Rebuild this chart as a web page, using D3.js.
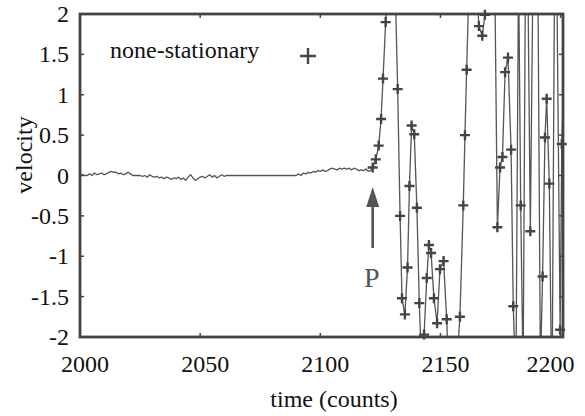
<!DOCTYPE html>
<html>
<head>
<meta charset="utf-8">
<script src="https://cdn.jsdelivr.net/npm/d3@7"></script>
<style>
  html, body { margin: 0; padding: 0; background: #fff; }
  svg { display: block; }
  svg text { font-family: "Liberation Serif", "DejaVu Serif", serif; }
</style>
</head>
<body>
<svg id="chart" width="585" height="416"></svg>
<script>
// Quiet (stationary) stretch of the record, one sample per count
const stationaryTime = [
  2000, 2001, 2002, 2003, 2004, 2005, 2006, 2007, 2008, 2009,
  2010, 2011, 2012, 2013, 2014, 2015, 2016, 2017, 2018, 2019,
  2020, 2021, 2022, 2023, 2024, 2025, 2026, 2027, 2028, 2029,
  2030, 2031, 2032, 2033, 2034, 2035, 2036, 2037, 2038, 2039,
  2040, 2041, 2042, 2043, 2044, 2045, 2046, 2047, 2048, 2049,
  2050, 2051, 2052, 2053, 2054, 2055, 2056, 2057, 2058, 2059,
  2060, 2061, 2090, 2091, 2092, 2093, 2094, 2095, 2096, 2097,
  2098, 2099, 2100, 2101, 2102, 2103, 2104, 2105, 2106, 2107,
  2108, 2109, 2110, 2111, 2112, 2113, 2114, 2115, 2116, 2117,
  2118, 2119, 2120, 2121
];
const stationaryVel = [
  0.00, 0.01, 0.00, 0.00, 0.02, 0.00, 0.03, 0.01, 0.02, 0.03,
  0.01, 0.02, 0.04, 0.05, 0.04, 0.04, 0.02, 0.03, 0.01, 0.02,
  0.04, 0.02, 0.00, 0.00, 0.00, 0.00, -0.01, 0.00, -0.02, 0.01,
  -0.01, -0.02, -0.01, -0.03, -0.02, -0.04, -0.02, -0.03, -0.05, -0.03,
  -0.04, -0.02, -0.05, -0.03, -0.06, -0.02, 0.01, -0.03, -0.06, -0.04,
  -0.02, -0.01, -0.03, -0.01, 0.01, -0.02, 0.00, -0.03, -0.01, 0.01,
  -0.01, 0.00, 0.00, 0.02, 0.00, 0.03, 0.02, 0.04, 0.03, 0.05,
  0.04, 0.06, 0.05, 0.07, 0.05, 0.06, 0.08, 0.09, 0.08, 0.07,
  0.09, 0.08, 0.09, 0.08, 0.09, 0.07, 0.09, 0.08, 0.06, 0.07,
  0.06, 0.08, 0.05, 0.06
];

// Non-stationary stretch after the onset P (drawn with + markers)
const onsetTime = 2121.8;
const nonStatTime = [
  2121.8, 2123.1, 2124.3, 2125.3, 2126.1, 2127.2, 2128.3, 2129.3, 2130.3, 2131.2,
  2132.2, 2133.2, 2134.0, 2135.2, 2136.3, 2137.1, 2138.0, 2139.1, 2140.2, 2141.2,
  2142.2, 2143.2, 2144.3, 2145.2, 2146.1, 2147.3, 2148.6, 2149.8, 2151.3, 2152.6,
  2153.6, 2154.6, 2155.6, 2156.7, 2158.1, 2159.5, 2160.2, 2160.9, 2162.1, 2163.1,
  2164.2, 2165.2, 2166.0, 2167.4, 2168.5, 2169.6, 2170.6, 2171.7, 2172.7, 2173.7,
  2174.8, 2175.8, 2176.9, 2178.1, 2179.4, 2180.3, 2181.4, 2182.5, 2183.4, 2184.4,
  2185.4, 2186.4, 2187.4, 2188.5, 2189.6, 2190.6, 2191.6, 2192.5, 2193.5, 2194.2,
  2195.3, 2196.4, 2197.5, 2198.5, 2199.8, 2200.5, 2201.4
];
const nonStatVel = [
  0.10, 0.20, 0.37, 0.70, 1.20, 1.90, 2.9, 3.6, 3.3, 2.3,
  1.07, -0.50, -1.52, -1.72, -1.14, -0.13, 0.62, 0.51, -0.40, -1.58,
  -2.4, -1.97, -1.27, -0.86, -0.96, -1.52, -1.83, -1.16, -1.06, -1.78,
  -2.6, -3.2, -3.0, -2.4, -1.75, -0.37, 0.50, 1.31, 2.6, 3.4,
  3.0, 2.3, 1.85, 1.73, 1.99, 3.0, 3.6, 3.0, 2.2, -0.64,
  0.10, 0.23, 1.28, 1.46, 0.32, -1.62, -2.6, 2.6, -0.37, -2.5,
  2.7, 2.4, -0.69, 2.5, 3.0, 2.2, -2.4, -1.25, 0.47, 0.95,
  -0.10, -3.0, 2.6, 2.2, -1.91, 0.39, 1.2
];

const xTicks = [2000, 2050, 2100, 2150, 2200];
const xTickLabels = ["2000", "2050", "2100", "2150", "2200"];
const yTicks = [-2, -1.5, -1, -0.5, 0, 0.5, 1, 1.5, 2];
const yTickLabels = ["-2", "-1.5", "-1", "-0.5", "0", "0.5", "1", "1.5", "2"];
const legendLabel = "none-stationary";
const xTitle = "time (counts)";
const yTitle = "velocity";
const onsetLabel = "P";

const FONT = "'Liberation Serif', 'DejaVu Serif', serif";
const svg = d3.select("#chart");
const W = 585, H = 416;
const plot = { left: 80, right: 563, top: 14, bottom: 337 };
const ink = "#444";

svg.append("rect").attr("width", W).attr("height", H).attr("fill", "#fff");

const x = d3.scaleLinear().domain([2000, 2201]).range([plot.left, plot.right]);
const y = d3.scaleLinear().domain([-2, 2]).range([plot.bottom, plot.top]);

const stationary = stationaryTime.map((t, i) => ({ t, v: stationaryVel[i] }));
const nonStat = nonStatTime.map((t, i) => ({ t, v: nonStatVel[i] }));
const series = stationary.concat(nonStat);

svg.append("defs").append("clipPath").attr("id", "plotClip")
  .append("rect")
  .attr("x", plot.left).attr("y", plot.top)
  .attr("width", plot.right - plot.left).attr("height", plot.bottom - plot.top);

// Trace
const line = d3.line().x(d => x(d.t)).y(d => y(d.v));
svg.append("path")
  .datum(series)
  .attr("clip-path", "url(#plotClip)")
  .attr("d", line)
  .attr("fill", "none")
  .attr("stroke", "#555")
  .attr("stroke-width", 1.3)
  .attr("stroke-linejoin", "round");

// + markers on the non-stationary samples that fall inside the axes
function plus(g, cx, cy, half, sw) {
  g.append("path")
    .attr("d", `M${cx - half},${cy}H${cx + half}M${cx},${cy - half}V${cy + half}`)
    .attr("stroke", ink).attr("stroke-width", sw).attr("fill", "none");
}
const markerG = svg.append("g");
nonStat.filter(d => d.v >= -2.02 && d.v <= 2.02 && d.t <= 2201.2)
  .forEach(d => plus(markerG, x(d.t), y(d.v), 5, 2.4));

// Ticks on all four sides, pointing inward
const axisG = svg.append("g");
const tl = 4;
xTicks.forEach(t => {
  axisG.append("line").attr("x1", x(t)).attr("x2", x(t))
    .attr("y1", plot.bottom).attr("y2", plot.bottom - tl)
    .attr("stroke", ink).attr("stroke-width", 1.5);
  axisG.append("line").attr("x1", x(t)).attr("x2", x(t))
    .attr("y1", plot.top).attr("y2", plot.top + tl)
    .attr("stroke", ink).attr("stroke-width", 1.5);
});
yTicks.forEach(v => {
  axisG.append("line").attr("x1", plot.left).attr("x2", plot.left + tl)
    .attr("y1", y(v)).attr("y2", y(v))
    .attr("stroke", ink).attr("stroke-width", 1.5);
  axisG.append("line").attr("x1", plot.right).attr("x2", plot.right - tl)
    .attr("y1", y(v)).attr("y2", y(v))
    .attr("stroke", ink).attr("stroke-width", 1.5);
});

// Frame
svg.append("rect")
  .attr("x", plot.left).attr("y", plot.top)
  .attr("width", plot.right - plot.left).attr("height", plot.bottom - plot.top)
  .attr("fill", "none").attr("stroke", ink).attr("stroke-width", 2.8);

function label(xp, yp, str, size, anchor, fill) {
  return svg.append("text")
    .attr("x", xp).attr("y", yp)
    .attr("text-anchor", anchor)
    .attr("font-family", FONT)
    .attr("font-size", size).attr("fill", fill || "#111")
    .text(str);
}

// Tick labels
xTicks.forEach((t, i) => {
  const shift = i === xTicks.length - 1 ? -10 : 5;
  label(x(t) + shift, 372, xTickLabels[i], 24, "middle");
});
yTicks.forEach((v, i) => {
  label(69, y(v) + 8, yTickLabels[i], 24, "end");
});

// Axis titles
label(334, 407, xTitle, 24, "middle");
label(0, 0, yTitle, 24, "middle").attr("transform", "translate(32,155) rotate(-90)");

// Legend
label(110, 58, legendLabel, 24, "start");
plus(svg, 308, 56, 8, 2.4);

// Onset arrow and label
const ax = x(onsetTime);
svg.append("line")
  .attr("x1", ax).attr("x2", ax).attr("y1", 248).attr("y2", 200)
  .attr("stroke", "#555").attr("stroke-width", 2.6);
svg.append("path")
  .attr("d", `M${ax},187L${ax - 6.5},207L${ax + 6.5},207Z`)
  .attr("fill", "#555");
label(ax - 1, 287, onsetLabel, 28, "middle", "#555");
</script>
</body>
</html>
